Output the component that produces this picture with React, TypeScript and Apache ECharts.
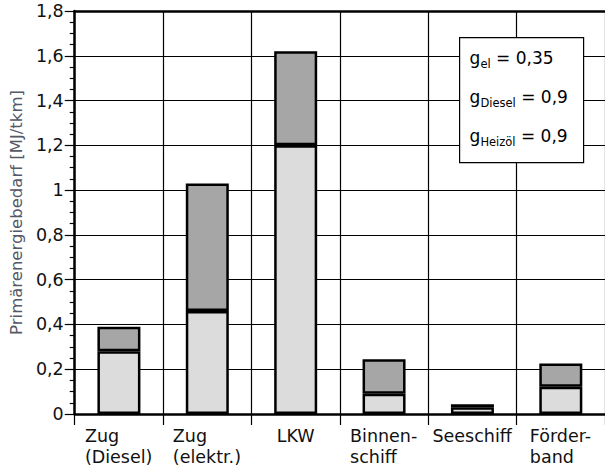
import React, { useEffect, useRef } from "react";
import * as echarts from "echarts";

const categories = ["Zug\n(Diesel)", "Zug\n(elektr.)", "LKW", "Binnen-\nschiff", "Seeschiff", "Förder-\nband"];
const baseValues = [0.28, 0.46, 1.2, 0.09, 0.03, 0.122];
const topValues = [0.11, 0.57, 0.42, 0.155, 0.013, 0.104];
const yTicks = [0, 0.2, 0.4, 0.6, 0.8, 1, 1.2, 1.4, 1.6, 1.8];
const factorLines = [
  { name: "el", value: "0,35" },
  { name: "Diesel", value: "0,9" },
  { name: "Heizöl", value: "0,9" },
];

const FONT = "DejaVu Sans";
const FS = 17.5;

function measure(text: string, size: number): number {
  const c = document.createElement("canvas").getContext("2d");
  if (!c) return text.length * size * 0.6;
  c.font = size + "px '" + FONT + "'";
  return c.measureText(text).width;
}

export default function App() {
  const ref = useRef<HTMLDivElement>(null);
  useEffect(() => {
    if (!ref.current) return;
    const chart = echarts.init(ref.current, undefined, { renderer: "svg" });
    const rich: Record<string, any> = {};
    categories.forEach((c, i) => {
      const w = Math.max(...c.split("\n").map((l) => measure(l, FS)));
      rich["w" + i] = { fontFamily: FONT, fontSize: FS, lineHeight: 21, color: "#111", align: "left", width: Math.ceil(w) };
    });
    const option: any = {
      animation: false,
      backgroundColor: "#ffffff",
      grid: { left: 73, top: 11, width: 540, height: 403 },
      xAxis: [
        {
          type: "category",
          data: categories,
          boundaryGap: true,
          axisLine: { show: true, lineStyle: { color: "#000", width: 2.5 } },
          axisTick: { show: true, interval: 0, length: 11, lineStyle: { color: "#000", width: 1.2 } },
          splitLine: { show: true, interval: 0, lineStyle: { color: "#000", width: 1.2 } },
          axisLabel: {
            interval: 0,
            margin: 11,
            fontFamily: FONT,
            fontSize: FS,
            lineHeight: 21,
            color: "#111",
            formatter: (v: string) => {
              const i = categories.indexOf(v);
              return v
                .split("\n")
                .map((l) => "{w" + i + "|" + l + "}")
                .join("\n");
            },
            rich,
            align: "center",
          },
        },
        {
          type: "category",
          position: "top",
          data: categories,
          axisLine: { show: true, onZero: false, lineStyle: { color: "#000", width: 2.5 } },
          axisTick: { show: false },
          axisLabel: { show: false },
          splitLine: { show: false },
        },
      ],
      yAxis: {
        type: "value",
        min: 0,
        max: 1.8,
        interval: 0.2,
        name: "Primärenergiebedarf [MJ/tkm]",
        nameLocation: "middle",
        nameGap: 48,
        nameTextStyle: { fontFamily: FONT, fontSize: 16.5, color: "#555866" },
        axisLine: { show: true, lineStyle: { color: "#000", width: 2.5 } },
        axisTick: { show: true, length: 10, lineStyle: { color: "#000", width: 1.2 } },
        minorTick: { show: true, splitNumber: 4, length: 5, lineStyle: { color: "#000", width: 1.2 } },
        splitLine: { show: true, lineStyle: { color: "#000", width: 1.2 } },
        axisLabel: {
          margin: 11,
          fontFamily: FONT,
          fontSize: FS,
          color: "#111",
          formatter: (v: number) => {
            const t = yTicks.find((x) => Math.abs(x - v) < 1e-6);
            const val = t === undefined ? v : t;
            return String(Math.round(val * 10) / 10).replace(".", ",");
          },
        },
      },
      series: [
        {
          type: "bar",
          stack: "total",
          data: baseValues,
          barWidth: 43,
          itemStyle: { color: "#dcdcdc", borderColor: "#000", borderWidth: 2.5 },
        },
        {
          type: "bar",
          stack: "total",
          data: topValues,
          barWidth: 43,
          itemStyle: { color: "#a6a6a6", borderColor: "#000", borderWidth: 2.5 },
        },
      ],
      graphic: [
        {
          type: "group",
          left: 459,
          top: 37,
          z: 100,
          children: [
            {
              type: "rect",
              z: 100,
              shape: { x: 0, y: 0, width: 124, height: 125 },
              style: { fill: "#fff", stroke: "#000", lineWidth: 1.2 },
            },
            ...factorLines.map((f, i) => ({
              type: "text",
              z: 101,
              x: 10,
              y: 7 + i * 39,
              style: {
                text: "{g|g}{s|" + f.name + "}{n| = " + f.value + "}",
                rich: {
                  g: { fontFamily: FONT, fontSize: 17, color: "#111", lineHeight: 26 },
                  s: { fontFamily: FONT, fontSize: 11.5, color: "#111", lineHeight: 26, padding: [12, 0, 0, 0] },
                  n: { fontFamily: FONT, fontSize: 17, color: "#111", lineHeight: 26 },
                },
              },
            })),
          ],
        },
      ],
    };
    chart.setOption(option);
    return () => chart.dispose();
  }, []);
  return <div ref={ref} style={{ width: 605, height: 472, position: "absolute", left: 0, top: 0 }} />;
}
